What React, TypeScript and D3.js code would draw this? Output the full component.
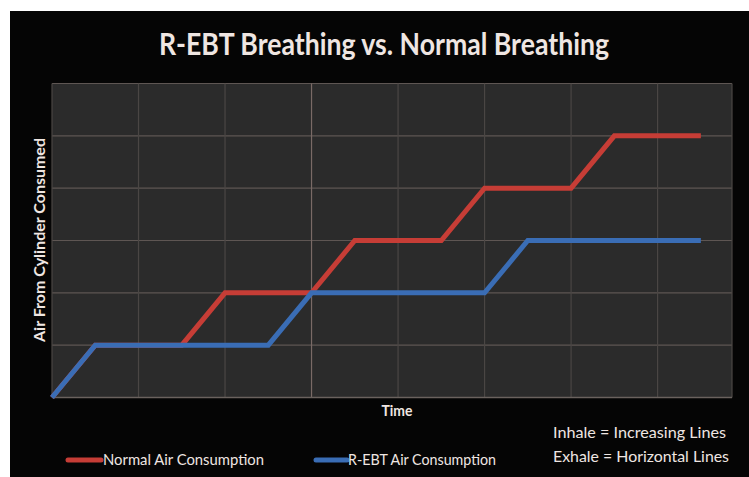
import React from "react";
import * as d3 from "d3";

const title = "R-EBT Breathing vs. Normal Breathing";
const yAxisTitle = "Air From Cylinder Consumed";
const xAxisTitle = "Time";
const seriesNames = ["Normal Air Consumption", "R-EBT Air Consumption"];
const notes = ["Inhale = Increasing Lines", "Exhale = Horizontal Lines"];

// time steps and consumption level for each series
const normalTime = [0, 1, 3, 4, 6, 7, 9, 10, 12, 13, 15];
const normalLevel = [0, 1, 1, 2, 2, 3, 3, 4, 4, 5, 5];
const rebtTime = [0, 1, 5, 6, 10, 11, 15];
const rebtLevel = [0, 1, 1, 2, 2, 3, 3];

const yTicks = [0, 1, 2, 3, 4, 5, 6];
const xGridTicks = [0, 2, 4, 6, 8, 10, 12, 14];

const W = 749;
const H = 477;
const FONT = "Lato, 'Open Sans', sans-serif";
const TEXT = "#efe6e2";

export default function App() {
  const x = d3.scaleLinear().domain([0, 15.72]).range([52, 732]);
  const y = d3.scaleLinear().domain([0, 6]).range([397.5, 83.5]);
  const line = d3
    .line<[number, number]>()
    .x((d) => x(d[0]))
    .y((d) => y(d[1]));
  const normal = normalTime.map((t, i) => [t, normalLevel[i]] as [number, number]);
  const rebt = rebtTime.map((t, i) => [t, rebtLevel[i]] as [number, number]);
  const [x0, x1] = x.range();
  const [y0, y1] = y.range();
  const red = "#c63d36";
  const blue = "#3a6db5";
  const grid = "#5e5653";

  return (
    <div style={{ position: "absolute", left: 0, top: 0 }}>
      <svg width={W} height={H} style={{ display: "block" }}>
        <rect x={0} y={0} width={W} height={H} fill="#ffffff" />
        <rect x={10} y={11} width={W - 10} height={H - 11} fill="#050505" />
        <rect x={x0} y={y1} width={x1 - x0} height={y0 - y1} fill="#2b2b2b" />
        {yTicks.map((v) => (
          <line key={"h" + v} x1={x0} x2={x1} y1={y(v)} y2={y(v)} stroke={grid} strokeWidth={1.2} />
        ))}
        {xGridTicks.map((v) => (
          <line key={"v" + v} x1={x(v)} x2={x(v)} y1={y1} y2={y0} stroke={v === 6 ? "#7a6a66" : "#4a4644"} strokeWidth={1.2} />
        ))}
        <line x1={x1} x2={x1} y1={y1} y2={y0} stroke="#4a4644" strokeWidth={1.2} />
        <line x1={x0} x2={x1} y1={y0} y2={y0} stroke="#6a625e" strokeWidth={1.5} />
        <path d={line(normal) ?? ""} fill="none" stroke={red} strokeWidth={5} strokeLinejoin="miter" />
        <path d={line(rebt) ?? ""} fill="none" stroke={blue} strokeWidth={5} strokeLinejoin="miter" />
        <text x={384} y={55} textAnchor="middle" fill={TEXT} fontFamily={FONT} fontWeight="bold" fontSize={30} textLength={450} lengthAdjust="spacingAndGlyphs">
          {title}
        </text>
        <text
          transform={`translate(45,240) rotate(-90)`}
          textAnchor="middle"
          fill={TEXT}
          fontFamily={FONT}
          fontWeight="bold"
          fontSize={15}
          textLength={204}
          lengthAdjust="spacingAndGlyphs"
        >
          {yAxisTitle}
        </text>
        <text x={397} y={416} textAnchor="middle" fill={TEXT} fontFamily={FONT} fontWeight="bold" fontSize={15} textLength={31} lengthAdjust="spacingAndGlyphs">
          {xAxisTitle}
        </text>
        <line x1={68} x2={101} y1={460} y2={460} stroke={red} strokeWidth={5} strokeLinecap="round" />
        <text x={103} y={465} fill={TEXT} fontFamily={FONT} fontSize={15} textLength={161} lengthAdjust="spacingAndGlyphs">
          {seriesNames[0]}
        </text>
        <line x1={316} x2={347} y1={460} y2={460} stroke={blue} strokeWidth={5} strokeLinecap="round" />
        <text x={348} y={465} fill={TEXT} fontFamily={FONT} fontSize={15} textLength={148} lengthAdjust="spacingAndGlyphs">
          {seriesNames[1]}
        </text>
        <text x={553} y={438} fill={TEXT} fontFamily={FONT} fontSize={16} textLength={173} lengthAdjust="spacingAndGlyphs">
          {notes[0]}
        </text>
        <text x={553} y={462} fill={TEXT} fontFamily={FONT} fontSize={16} textLength={176} lengthAdjust="spacingAndGlyphs">
          {notes[1]}
        </text>
      </svg>
    </div>
  );
}
